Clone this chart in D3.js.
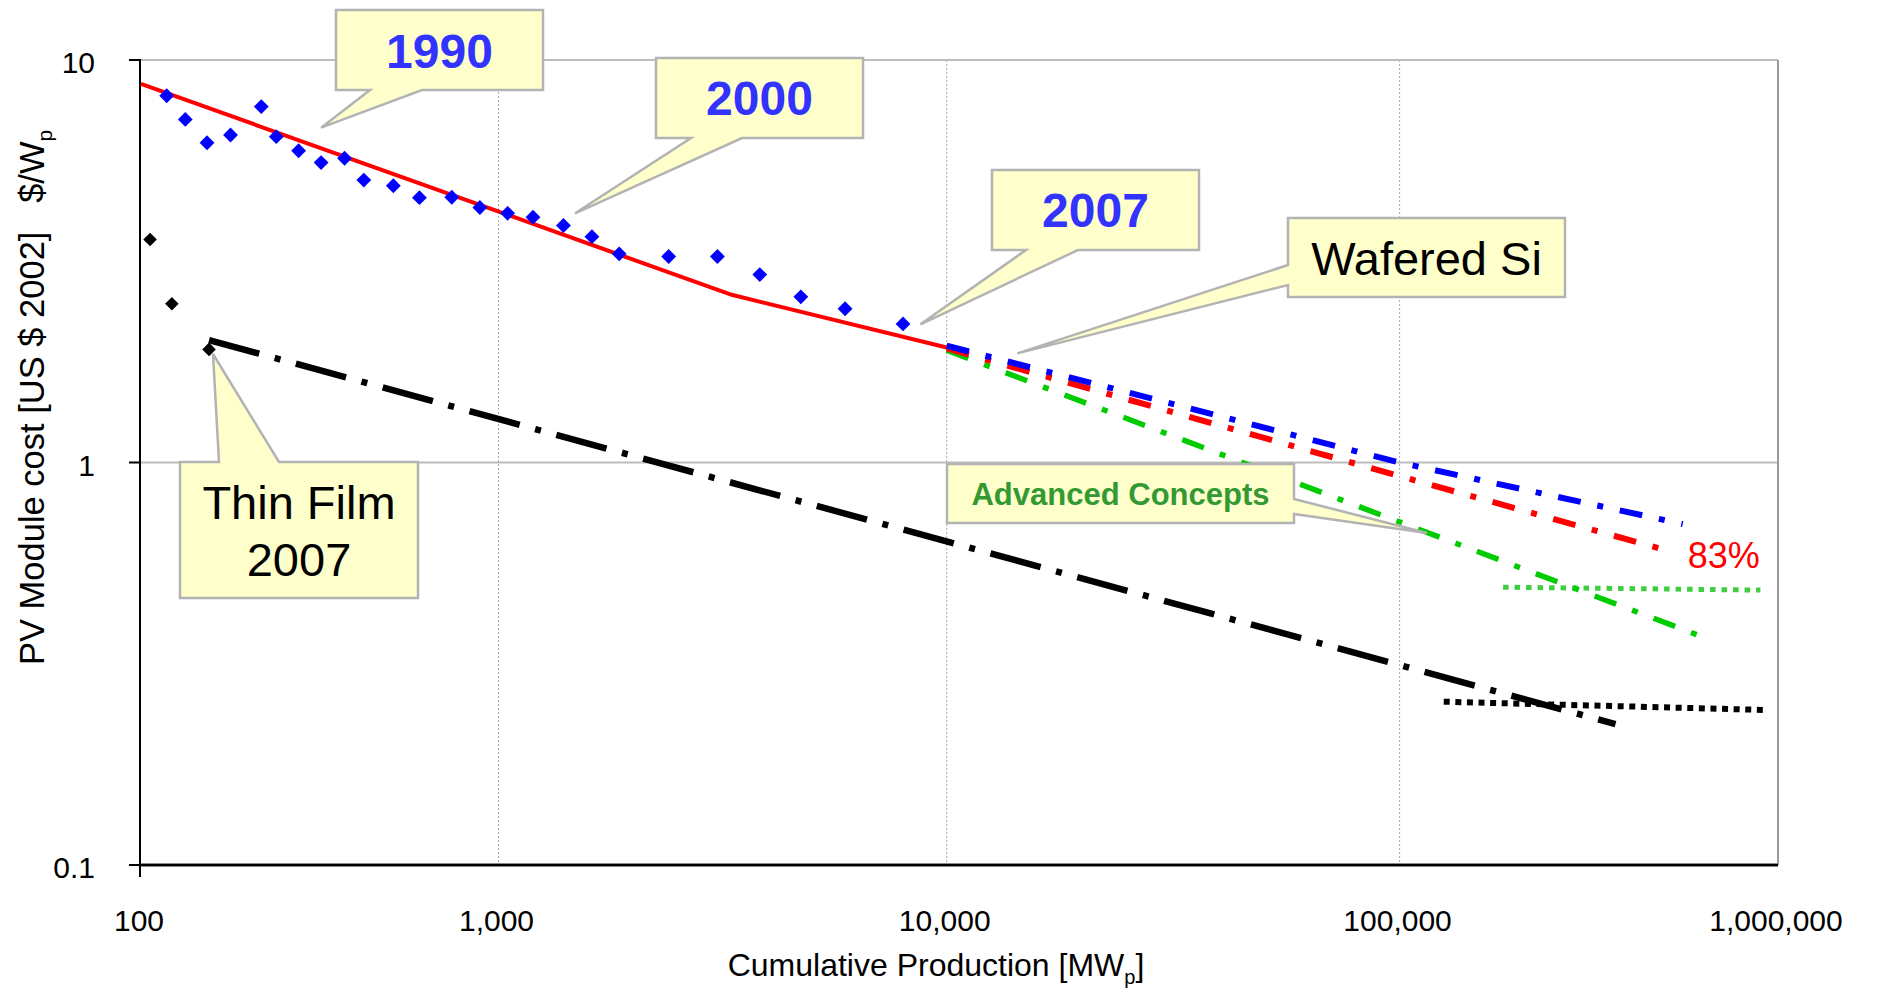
<!DOCTYPE html>
<html lang="en">
<head>
<meta charset="utf-8">
<title>PV Module cost learning curve</title>
<script src="https://cdn.jsdelivr.net/npm/d3@7"></script>
<style>
  body { margin: 0; background: #fff; }
  svg { display: block; font-family: "Liberation Sans", Arial, sans-serif; }
</style>
</head>
<body>
<div id="chart"></div>
<script>
// ---- data ----
var xTicks = [100, 1000, 10000, 100000, 1000000];
var yTicks = [0.1, 1, 10];

// wafered Si module prices (blue diamonds)
var siX = [118, 133, 153, 178, 217, 239, 276, 319, 371, 420, 508, 601, 740, 887, 1048, 1194, 1396, 1616, 1859, 2397, 3079, 3828, 4727, 5933, 7991];
var siY = [8.15, 7.12, 6.23, 6.51, 7.66, 6.45, 5.95, 5.56, 5.70, 5.03, 4.87, 4.55, 4.56, 4.30, 4.16, 4.07, 3.88, 3.64, 3.30, 3.25, 3.25, 2.93, 2.58, 2.41, 2.21];

// thin film (black diamonds)
var tfX = [106, 122, 155];
var tfY = [3.58, 2.48, 1.91];

// fitted learning curve (red solid)
var fitX = [100, 3314, 10000];
var fitY = [8.72, 2.61, 1.93];

// projections
var projBlueX = [10000, 100000, 560000];
var projBlueY = [1.95, 1.0, 0.703];
var projRedX = [10000, 100000, 530000];
var projRedY = [1.92, 0.925, 0.598];
var projGreenX = [10000, 621700];
var projGreenY = [1.90, 0.371];
var projTfX = [155, 372000];
var projTfY = [2.015, 0.224];
var floorGreenX = [187700, 898500];
var floorGreenY = [0.490, 0.482];
var floorBlackX = [130800, 939700];
var floorBlackY = [0.2545, 0.2427];

function zip(xs, ys) { return xs.map(function(v, i) { return [v, ys[i]]; }); }

var w = 1879, h = 990;
var pLeft = 141, pRight = 1778, pTop = 60, pBottom = 865;

var svg = d3.select("#chart").append("svg")
  .attr("width", w).attr("height", h);

// the x axis of the original is not evenly spaced per decade
var x = d3.scaleLog().domain(xTicks).range([pLeft, 498.5, 946.7, 1399.6, pRight]);
var y = d3.scaleLog().domain([0.1, 10]).range([pBottom, pTop]);

var line = d3.line().x(function(d) { return x(d[0]); }).y(function(d) { return y(d[1]); });

// grid
svg.selectAll(".vgrid").data(xTicks.slice(1, 4)).enter().append("line")
  .attr("x1", function(d) { return x(d); }).attr("x2", function(d) { return x(d); })
  .attr("y1", pTop).attr("y2", pBottom)
  .style("stroke", "#a8a8a8").style("stroke-width", 1).style("stroke-dasharray", "2,2");

svg.selectAll(".hgrid").data([1, 10]).enter().append("line")
  .attr("x1", pLeft).attr("x2", pRight)
  .attr("y1", function(d) { return y(d); }).attr("y2", function(d) { return y(d); })
  .style("stroke", "#bdbdbd").style("stroke-width", 2);

// right border
svg.append("line").attr("x1", pRight).attr("x2", pRight).attr("y1", pTop).attr("y2", pBottom)
  .style("stroke", "#9a9a9a").style("stroke-width", 2);

// axes
svg.append("line").attr("x1", pLeft).attr("x2", pRight).attr("y1", pBottom).attr("y2", pBottom)
  .style("stroke", "#8c8c8c").style("stroke-width", 4);
svg.append("line").attr("x1", pLeft).attr("x2", pRight).attr("y1", pBottom).attr("y2", pBottom)
  .style("stroke", "#000").style("stroke-width", 2);
svg.append("line").attr("x1", pLeft - 1).attr("x2", pLeft - 1).attr("y1", pTop).attr("y2", pBottom + 12)
  .style("stroke", "#000").style("stroke-width", 2);

svg.selectAll(".ytick").data(yTicks).enter().append("line")
  .attr("x1", pLeft - 12).attr("x2", pLeft)
  .attr("y1", function(d) { return y(d); }).attr("y2", function(d) { return y(d); })
  .style("stroke", "#000").style("stroke-width", 2);

svg.selectAll(".ylab").data(yTicks).enter().append("text")
  .attr("x", 95).attr("y", function(d) { return y(d) + 13; })
  .attr("text-anchor", "end").attr("font-size", 30)
  .text(function(d) { return d; });

var fmt = d3.format(",");
svg.selectAll(".xlab").data(xTicks).enter().append("text")
  .attr("x", function(d) { return x(d) - 2; }).attr("y", 931)
  .attr("text-anchor", "middle").attr("font-size", 30)
  .text(function(d) { return fmt(d); });

// axis titles
var xt = svg.append("text").attr("x", 936).attr("y", 976)
  .attr("text-anchor", "middle").attr("font-size", 32);
xt.append("tspan").text("Cumulative Production [MW");
xt.append("tspan").attr("font-size", 20).attr("dy", 8).text("p");
xt.append("tspan").attr("dy", -8).text("]");

var yt = svg.append("text").attr("transform", "translate(44,665) rotate(-90)")
  .attr("font-size", 34.5);
yt.append("tspan").text("PV Module cost [US $ 2002]\u00a0\u00a0\u00a0$/W");
yt.append("tspan").attr("font-size", 21).attr("dy", 8).text("p");

// lines
function drawLine(pts, color, width, dash, op) {
  svg.append("path").datum(pts).attr("d", line)
    .style("fill", "none").style("stroke", color).style("stroke-width", width)
    .style("stroke-dasharray", dash || null).style("opacity", op || 1);
}

drawLine(zip(fitX, fitY), "#ff0000", 4);
drawLine(zip(projTfX, projTfY), "#000", 6.5, "52,16,6,16");
drawLine(zip(floorBlackX, floorBlackY), "#000", 6, "6,5.6");
drawLine(zip(floorGreenX, floorGreenY), "#33cc33", 5, "5.5,6", 0.95);
drawLine(zip(projGreenX, projGreenY), "#00cc00", 5.5, "23,17,6,17");
drawLine(zip(projRedX, projRedY), "#ff0000", 6, "23,17,6,17");
drawLine(zip(projBlueX, projBlueY), "#0000ff", 6, "23,17,6,17");

// markers
var diamond = d3.symbol().type(d3.symbolSquare);
svg.selectAll(".si").data(zip(siX, siY)).enter().append("path")
  .attr("d", diamond.size(110)())
  .attr("transform", function(d) { return "translate(" + x(d[0]) + "," + y(d[1]) + ") rotate(45)"; })
  .style("fill", "#0000ff");
svg.selectAll(".tf").data(zip(tfX, tfY)).enter().append("path")
  .attr("d", diamond.size(92)())
  .attr("transform", function(d) { return "translate(" + x(d[0]) + "," + y(d[1]) + ") rotate(45)"; })
  .style("fill", "#000");

// 83% label next to the end of the red projection
var redEnd = projRedX.length - 1;
svg.append("text")
  .attr("x", x(projRedX[redEnd]) + 14).attr("y", y(projRedY[redEnd]) + 16)
  .attr("font-size", 36).style("fill", "#ff0000").text("83%");

// callouts: box in px, tip anchored to data
var callouts = [
  { lines: ["1990"], box: [336, 10, 543, 90], side: "bottom", base: [370, 422], tip: [319, 6.79], size: 48, bold: true, color: "#3333ff", dy: 18 },
  { lines: ["2000"], box: [656, 58, 863, 138], side: "bottom", base: [691, 742], tip: [1482, 4.16], size: 48, bold: true, color: "#3333ff", dy: 17 },
  { lines: ["2007"], box: [992, 170, 1199, 250], side: "bottom", base: [1026, 1078], tip: [8740, 2.205], size: 48, bold: true, color: "#3333ff", dy: 17 },
  { lines: ["Wafered Si"], box: [1288, 218, 1565, 297], side: "left", base: [265, 285], tip: [14320, 1.867], size: 47, bold: false, color: "#000", dy: 17 },
  { lines: ["Advanced Concepts"], box: [947, 464, 1294, 523], side: "right", base: [499, 514], tip: [118100, 0.668], size: 31, bold: true, color: "#339933", dy: 11 },
  { lines: ["Thin Film", "2007"], box: [180, 462, 418, 598], side: "top", base: [219, 279], tip: [159, 1.86], size: 47, bold: false, color: "#000", dy: -11 }
];

function calloutPath(c) {
  var x0 = c.box[0], y0 = c.box[1], x1 = c.box[2], y1 = c.box[3];
  var a = c.base[0], b = c.base[1];
  var tx = x(c.tip[0]), ty = y(c.tip[1]);
  var p = d3.path();
  if (c.side === "bottom") {
    p.moveTo(x0, y0); p.lineTo(x1, y0); p.lineTo(x1, y1); p.lineTo(b, y1);
    p.lineTo(tx, ty); p.lineTo(a, y1); p.lineTo(x0, y1);
  } else if (c.side === "top") {
    p.moveTo(x0, y0); p.lineTo(a, y0); p.lineTo(tx, ty); p.lineTo(b, y0);
    p.lineTo(x1, y0); p.lineTo(x1, y1); p.lineTo(x0, y1);
  } else if (c.side === "left") {
    p.moveTo(x0, y0); p.lineTo(x1, y0); p.lineTo(x1, y1); p.lineTo(x0, y1);
    p.lineTo(x0, b); p.lineTo(tx, ty); p.lineTo(x0, a);
  } else {
    p.moveTo(x0, y0); p.lineTo(x1, y0); p.lineTo(x1, a); p.lineTo(tx, ty);
    p.lineTo(x1, b); p.lineTo(x1, y1); p.lineTo(x0, y1);
  }
  p.closePath();
  return p.toString();
}

var cg = svg.selectAll(".callout").data(callouts).enter().append("g");
cg.append("path").attr("d", calloutPath)
  .style("fill", "#ffffcc").style("stroke", "#b3b3b3").style("stroke-width", 2.5)
  .style("stroke-linejoin", "miter");
cg.each(function(c) {
  var cx = (c.box[0] + c.box[2]) / 2, cy = (c.box[1] + c.box[3]) / 2;
  var t = d3.select(this).append("text")
    .attr("text-anchor", "middle").attr("font-size", c.size)
    .attr("font-weight", c.bold ? "bold" : "normal").style("fill", c.color);
  c.lines.forEach(function(s, i) {
    t.append("tspan").attr("x", cx)
      .attr("y", cy + c.dy + (i - (c.lines.length - 1) / 2) * 57 + (c.lines.length > 1 ? 28 : 0))
      .text(s);
  });
});
</script>
</body>
</html>
